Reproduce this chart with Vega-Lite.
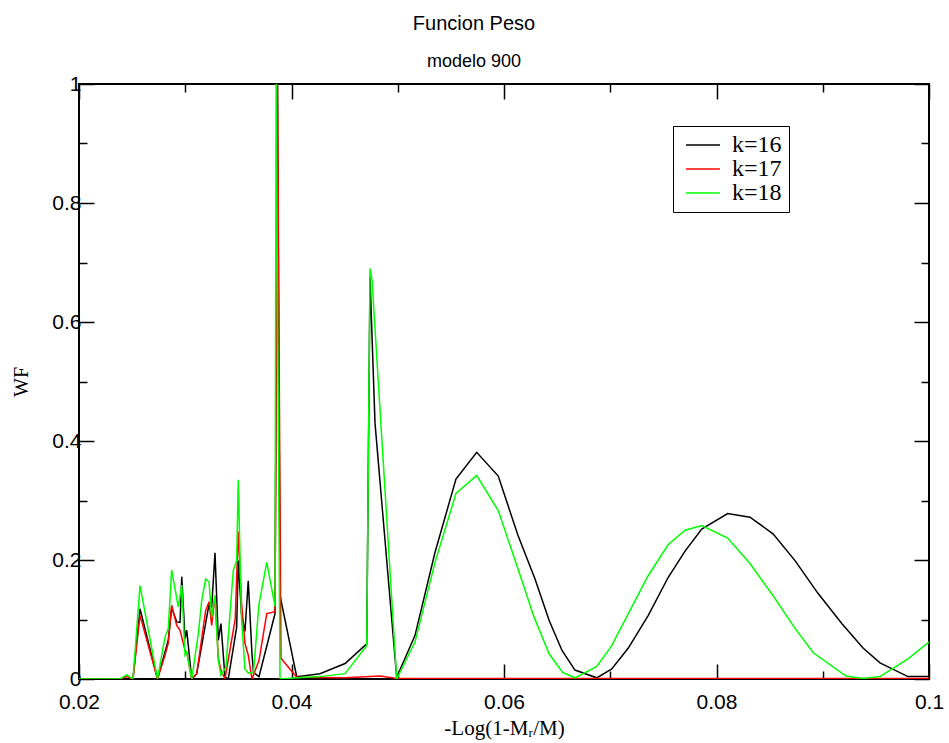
{
  "$schema": "https://vega.github.io/schema/vega-lite/v6.json",
  "width": 850,
  "height": 595,
  "autosize": {"type": "none"},
  "padding": {"left": 79, "top": 84, "right": 20, "bottom": 64},
  "background": "white",
  "title": {
    "text": "Funcion Peso",
    "subtitle": "modelo 900",
    "font": "Liberation Sans",
    "fontSize": 20,
    "fontWeight": "normal",
    "color": "black",
    "subtitleFont": "Liberation Sans",
    "subtitleFontSize": 18,
    "subtitleColor": "black",
    "anchor": "middle",
    "dx": -30,
    "offset": 2,
    "subtitlePadding": 19
  },
  "config": {
    "view": {"stroke": "black", "strokeWidth": 2},
    "legend": {
      "orient": "none",
      "legendX": 594,
      "legendY": 42,
      "title": null,
      "symbolType": "M-3,0H3",
      "symbolSize": 128,
      "symbolStrokeWidth": 1.5,
      "symbolOffset": 11,
      "labelFont": "Liberation Serif",
      "labelFontSize": 24,
      "labelColor": "black",
      "labelOffset": 17,
      "padding": 7,
      "rowPadding": 0,
      "strokeColor": "black",
      "fillColor": "white"
    }
  },
  "data": {
    "values": [
      {"k": "k=16", "x": 0.02, "y": 0}, {"k": "k=16", "x": 0.02449, "y": 0}, {"k": "k=16", "x": 0.02508, "y": 0},
      {"k": "k=16", "x": 0.02574, "y": 0.118}, {"k": "k=16", "x": 0.02739, "y": 0}, {"k": "k=16", "x": 0.02809, "y": 0.045},
      {"k": "k=16", "x": 0.0284, "y": 0.065}, {"k": "k=16", "x": 0.02872, "y": 0.12}, {"k": "k=16", "x": 0.0292, "y": 0.096},
      {"k": "k=16", "x": 0.02951, "y": 0.095}, {"k": "k=16", "x": 0.02967, "y": 0.172}, {"k": "k=16", "x": 0.02998, "y": 0.068},
      {"k": "k=16", "x": 0.03014, "y": 0.082}, {"k": "k=16", "x": 0.03061, "y": 0}, {"k": "k=16", "x": 0.03108, "y": 0.009},
      {"k": "k=16", "x": 0.03224, "y": 0.126}, {"k": "k=16", "x": 0.03249, "y": 0.121}, {"k": "k=16", "x": 0.0328, "y": 0.212},
      {"k": "k=16", "x": 0.03311, "y": 0.065}, {"k": "k=16", "x": 0.03336, "y": 0.093}, {"k": "k=16", "x": 0.03374, "y": 0.003},
      {"k": "k=16", "x": 0.03405, "y": 0}, {"k": "k=16", "x": 0.03484, "y": 0.087}, {"k": "k=16", "x": 0.03499, "y": 0.199},
      {"k": "k=16", "x": 0.03529, "y": 0.11}, {"k": "k=16", "x": 0.03562, "y": 0.08}, {"k": "k=16", "x": 0.03593, "y": 0.165},
      {"k": "k=16", "x": 0.03628, "y": 0.042}, {"k": "k=16", "x": 0.03642, "y": 0.011}, {"k": "k=16", "x": 0.03694, "y": 0.004},
      {"k": "k=16", "x": 0.03845, "y": 0.11}, {"k": "k=16", "x": 0.03868, "y": 1}, {"k": "k=16", "x": 0.03892, "y": 0.14},
      {"k": "k=16", "x": 0.04049, "y": 0.004}, {"k": "k=16", "x": 0.04268, "y": 0.009}, {"k": "k=16", "x": 0.04504, "y": 0.026},
      {"k": "k=16", "x": 0.04708, "y": 0.059}, {"k": "k=16", "x": 0.04739, "y": 0.675}, {"k": "k=16", "x": 0.04786, "y": 0.43},
      {"k": "k=16", "x": 0.0499, "y": 0.003}, {"k": "k=16", "x": 0.05162, "y": 0.073}, {"k": "k=16", "x": 0.05351, "y": 0.213},
      {"k": "k=16", "x": 0.05548, "y": 0.336}, {"k": "k=16", "x": 0.05743, "y": 0.381}, {"k": "k=16", "x": 0.05946, "y": 0.341},
      {"k": "k=16", "x": 0.06132, "y": 0.241}, {"k": "k=16", "x": 0.06292, "y": 0.168}, {"k": "k=16", "x": 0.06426, "y": 0.098},
      {"k": "k=16", "x": 0.06546, "y": 0.048}, {"k": "k=16", "x": 0.06668, "y": 0.015}, {"k": "k=16", "x": 0.06873, "y": 0.002},
      {"k": "k=16", "x": 0.07014, "y": 0.017}, {"k": "k=16", "x": 0.0717, "y": 0.052}, {"k": "k=16", "x": 0.07358, "y": 0.107},
      {"k": "k=16", "x": 0.07546, "y": 0.171}, {"k": "k=16", "x": 0.07704, "y": 0.215}, {"k": "k=16", "x": 0.07861, "y": 0.252},
      {"k": "k=16", "x": 0.08105, "y": 0.278}, {"k": "k=16", "x": 0.08315, "y": 0.272}, {"k": "k=16", "x": 0.08532, "y": 0.244},
      {"k": "k=16", "x": 0.08739, "y": 0.199}, {"k": "k=16", "x": 0.08955, "y": 0.144}, {"k": "k=16", "x": 0.09181, "y": 0.093},
      {"k": "k=16", "x": 0.09379, "y": 0.052}, {"k": "k=16", "x": 0.09539, "y": 0.027}, {"k": "k=16", "x": 0.09802, "y": 0.004},
      {"k": "k=16", "x": 0.1, "y": 0.004},

      {"k": "k=17", "x": 0.02, "y": 0}, {"k": "k=17", "x": 0.02386, "y": 0}, {"k": "k=17", "x": 0.02449, "y": 0.004},
      {"k": "k=17", "x": 0.02508, "y": 0}, {"k": "k=17", "x": 0.02574, "y": 0.107}, {"k": "k=17", "x": 0.02739, "y": 0},
      {"k": "k=17", "x": 0.02809, "y": 0.04}, {"k": "k=17", "x": 0.0284, "y": 0.06}, {"k": "k=17", "x": 0.02872, "y": 0.124},
      {"k": "k=17", "x": 0.0292, "y": 0.09}, {"k": "k=17", "x": 0.02951, "y": 0.082}, {"k": "k=17", "x": 0.02998, "y": 0.048},
      {"k": "k=17", "x": 0.03014, "y": 0.045}, {"k": "k=17", "x": 0.03061, "y": 0}, {"k": "k=17", "x": 0.03108, "y": 0.009},
      {"k": "k=17", "x": 0.03192, "y": 0.115}, {"k": "k=17", "x": 0.03224, "y": 0.13}, {"k": "k=17", "x": 0.03249, "y": 0.09},
      {"k": "k=17", "x": 0.0328, "y": 0.14}, {"k": "k=17", "x": 0.03311, "y": 0.035}, {"k": "k=17", "x": 0.03336, "y": 0.015},
      {"k": "k=17", "x": 0.03374, "y": 0}, {"k": "k=17", "x": 0.0347, "y": 0.1}, {"k": "k=17", "x": 0.03499, "y": 0.248},
      {"k": "k=17", "x": 0.03529, "y": 0.13}, {"k": "k=17", "x": 0.03562, "y": 0.06}, {"k": "k=17", "x": 0.03593, "y": 0.04},
      {"k": "k=17", "x": 0.03628, "y": 0}, {"k": "k=17", "x": 0.03694, "y": 0.031}, {"k": "k=17", "x": 0.03767, "y": 0.11},
      {"k": "k=17", "x": 0.03845, "y": 0.113}, {"k": "k=17", "x": 0.03868, "y": 1}, {"k": "k=17", "x": 0.03901, "y": 0.035},
      {"k": "k=17", "x": 0.04049, "y": 0.003}, {"k": "k=17", "x": 0.04504, "y": 0.002}, {"k": "k=17", "x": 0.04739, "y": 0.004},
      {"k": "k=17", "x": 0.04833, "y": 0.005}, {"k": "k=17", "x": 0.0499, "y": 0.001}, {"k": "k=17", "x": 0.1, "y": 0.001},

      {"k": "k=18", "x": 0.02, "y": 0}, {"k": "k=18", "x": 0.02386, "y": 0}, {"k": "k=18", "x": 0.02449, "y": 0.007},
      {"k": "k=18", "x": 0.02508, "y": 0}, {"k": "k=18", "x": 0.02574, "y": 0.157}, {"k": "k=18", "x": 0.02739, "y": 0},
      {"k": "k=18", "x": 0.02809, "y": 0.07}, {"k": "k=18", "x": 0.0284, "y": 0.085}, {"k": "k=18", "x": 0.02872, "y": 0.183},
      {"k": "k=18", "x": 0.02935, "y": 0.121}, {"k": "k=18", "x": 0.02967, "y": 0.158}, {"k": "k=18", "x": 0.02998, "y": 0.04},
      {"k": "k=18", "x": 0.03014, "y": 0.045}, {"k": "k=18", "x": 0.03061, "y": 0}, {"k": "k=18", "x": 0.03123, "y": 0.076},
      {"k": "k=18", "x": 0.03155, "y": 0.132}, {"k": "k=18", "x": 0.03192, "y": 0.168}, {"k": "k=18", "x": 0.03224, "y": 0.163},
      {"k": "k=18", "x": 0.03249, "y": 0.104}, {"k": "k=18", "x": 0.0328, "y": 0.14}, {"k": "k=18", "x": 0.03311, "y": 0.031},
      {"k": "k=18", "x": 0.03336, "y": 0.006}, {"k": "k=18", "x": 0.03383, "y": 0.02}, {"k": "k=18", "x": 0.03452, "y": 0.182},
      {"k": "k=18", "x": 0.03484, "y": 0.199}, {"k": "k=18", "x": 0.03499, "y": 0.335}, {"k": "k=18", "x": 0.03529, "y": 0.104},
      {"k": "k=18", "x": 0.03562, "y": 0.017}, {"k": "k=18", "x": 0.03593, "y": 0.01}, {"k": "k=18", "x": 0.03642, "y": 0.011},
      {"k": "k=18", "x": 0.03694, "y": 0.126}, {"k": "k=18", "x": 0.03767, "y": 0.196}, {"k": "k=18", "x": 0.03845, "y": 0.122},
      {"k": "k=18", "x": 0.03855, "y": 1}, {"k": "k=18", "x": 0.03892, "y": 0}, {"k": "k=18", "x": 0.04049, "y": 0.002},
      {"k": "k=18", "x": 0.04268, "y": 0.004}, {"k": "k=18", "x": 0.04504, "y": 0.009}, {"k": "k=18", "x": 0.04708, "y": 0.056},
      {"k": "k=18", "x": 0.04739, "y": 0.69}, {"k": "k=18", "x": 0.04758, "y": 0.67}, {"k": "k=18", "x": 0.0499, "y": 0},
      {"k": "k=18", "x": 0.05162, "y": 0.062}, {"k": "k=18", "x": 0.05351, "y": 0.196}, {"k": "k=18", "x": 0.05548, "y": 0.312},
      {"k": "k=18", "x": 0.05743, "y": 0.342}, {"k": "k=18", "x": 0.05946, "y": 0.283}, {"k": "k=18", "x": 0.06115, "y": 0.194},
      {"k": "k=18", "x": 0.06283, "y": 0.104}, {"k": "k=18", "x": 0.06426, "y": 0.042}, {"k": "k=18", "x": 0.06551, "y": 0.011},
      {"k": "k=18", "x": 0.06668, "y": 0.002}, {"k": "k=18", "x": 0.06873, "y": 0.021}, {"k": "k=18", "x": 0.07014, "y": 0.056},
      {"k": "k=18", "x": 0.0717, "y": 0.11}, {"k": "k=18", "x": 0.07358, "y": 0.174}, {"k": "k=18", "x": 0.07546, "y": 0.226},
      {"k": "k=18", "x": 0.07704, "y": 0.25}, {"k": "k=18", "x": 0.07861, "y": 0.258}, {"k": "k=18", "x": 0.08105, "y": 0.237},
      {"k": "k=18", "x": 0.08315, "y": 0.194}, {"k": "k=18", "x": 0.08532, "y": 0.14}, {"k": "k=18", "x": 0.08739, "y": 0.085},
      {"k": "k=18", "x": 0.08911, "y": 0.044}, {"k": "k=18", "x": 0.09219, "y": 0.005}, {"k": "k=18", "x": 0.09379, "y": 0.001},
      {"k": "k=18", "x": 0.09539, "y": 0.004}, {"k": "k=18", "x": 0.09802, "y": 0.034}, {"k": "k=18", "x": 0.1, "y": 0.062}
    ]
  },
  "layer": [
    {
      "mark": {"type": "line", "strokeWidth": 1.5, "clip": true},
      "encoding": {
        "x": {
          "field": "x", "type": "quantitative",
          "scale": {"domain": [0.02, 0.1], "nice": false, "zero": false},
          "axis": {
            "orient": "bottom",
            "values": [0.02, 0.03, 0.04, 0.05, 0.06, 0.07, 0.08, 0.09, 0.1],
            "labelExpr": "round(datum.value*100)%2==0 ? format(datum.value,'~g') : ''",
            "tickSize": {"condition": {"test": "round(datum.value*100)%2==0", "value": -15}, "value": -8},
            "tickColor": "black", "tickWidth": 1.5,
            "domain": false, "grid": false,
            "labelFont": "Liberation Sans", "labelFontSize": 21, "labelColor": "black",
            "labelPadding": 27, "labelFlush": false, "labelOverlap": false,
            "title": "-Log(1-Mᵣ/M)", "titleFont": "Liberation Serif", "titleFontSize": 21,
            "titleFontWeight": "normal", "titleColor": "black", "titlePadding": -2
          }
        },
        "y": {
          "field": "y", "type": "quantitative",
          "scale": {"domain": [0, 1], "nice": false},
          "axis": {
            "orient": "left",
            "values": [0, 0.1, 0.2, 0.3, 0.4, 0.5, 0.6, 0.7, 0.8, 0.9, 1],
            "labelExpr": "round(datum.value*10)%2==0 ? format(datum.value,'~g') : ''",
            "tickSize": {"condition": {"test": "round(datum.value*10)%2==0", "value": -15}, "value": -8},
            "tickColor": "black", "tickWidth": 1.5,
            "domain": false, "grid": false,
            "labelFont": "Liberation Sans", "labelFontSize": 21, "labelColor": "black",
            "labelPadding": 13, "labelFlush": false, "labelOverlap": false,
            "title": "WF", "titleFont": "Liberation Serif", "titleFontSize": 20,
            "titleFontWeight": "normal", "titleColor": "black", "titlePadding": 20
          }
        },
        "color": {
          "field": "k", "type": "nominal",
          "scale": {"domain": ["k=16", "k=17", "k=18"], "range": ["#000000", "#ff0000", "#00ff00"]}
        }
      }
    },
    {
      "mark": {"type": "point", "opacity": 0},
      "encoding": {
        "x": {
          "field": "x", "type": "quantitative",
          "axis": {
            "orient": "top",
            "values": [0.02, 0.03, 0.04, 0.05, 0.06, 0.07, 0.08, 0.09, 0.1],
            "labels": false,
            "tickSize": {"condition": {"test": "round(datum.value*100)%2==0", "value": -15}, "value": -8},
            "tickColor": "black", "tickWidth": 1.5,
            "domain": false, "grid": false, "title": null
          }
        },
        "y": {
          "field": "y", "type": "quantitative",
          "axis": {
            "orient": "right",
            "values": [0, 0.1, 0.2, 0.3, 0.4, 0.5, 0.6, 0.7, 0.8, 0.9, 1],
            "labels": false,
            "tickSize": {"condition": {"test": "round(datum.value*10)%2==0", "value": -15}, "value": -8},
            "tickColor": "black", "tickWidth": 1.5,
            "domain": false, "grid": false, "title": null
          }
        }
      }
    }
  ],
  "resolve": {"axis": {"x": "independent", "y": "independent"}}
}
